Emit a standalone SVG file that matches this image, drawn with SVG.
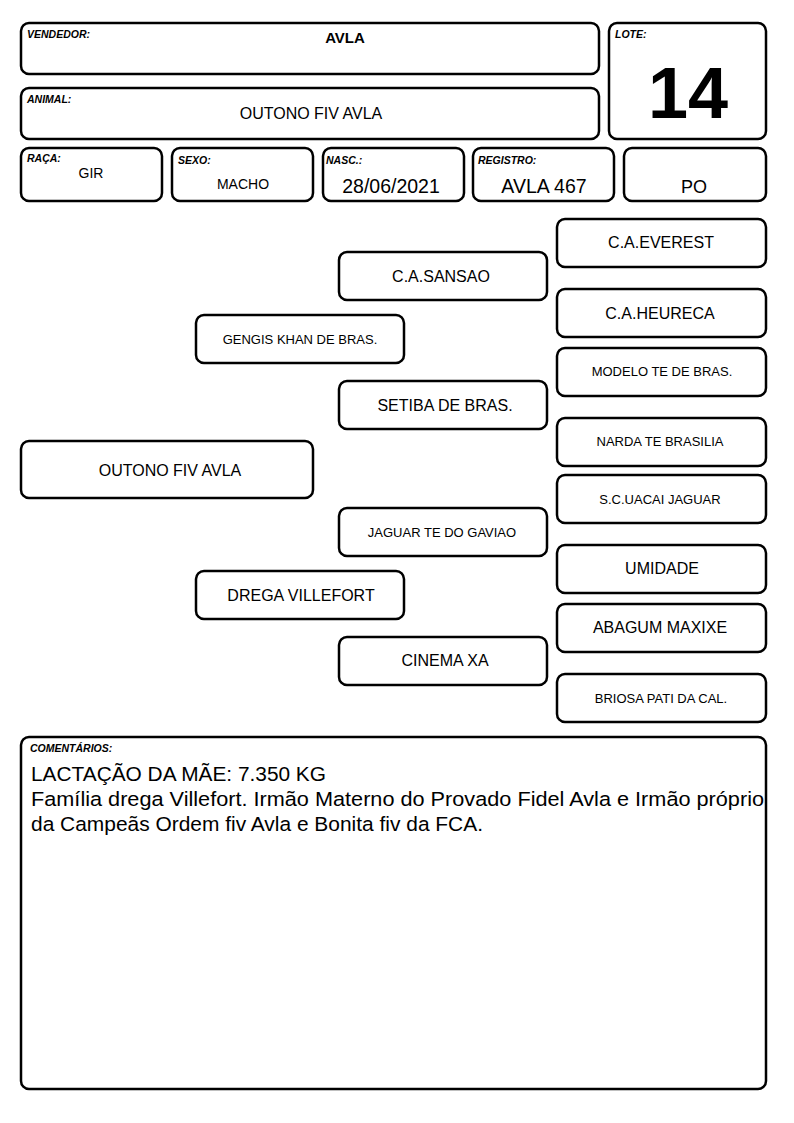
<svg xmlns="http://www.w3.org/2000/svg" width="794" height="1123" viewBox="0 0 794 1123">
<style>
.b{fill:#fff;stroke:#000;stroke-width:2.5}
.lb{font-family:"Liberation Sans",Arial,sans-serif;font-size:10.5px;font-weight:bold;font-style:italic}
.t{font-family:"Liberation Sans",Arial,sans-serif;text-anchor:middle;fill:#000}
.c{font-family:"Liberation Sans",Arial,sans-serif;font-size:20.5px;fill:#000}
</style>
<rect width="794" height="1123" fill="#fff"/>
<g id="vendedor"><rect class="b" x="21" y="23" width="578" height="51" rx="8"/><text class="lb" x="27" y="38">VENDEDOR:</text><text class="t" x="345" y="43" font-size="15" font-weight="bold">AVLA</text></g>
<g id="animal"><rect class="b" x="21" y="88" width="578" height="51" rx="8"/><text class="lb" x="27" y="103">ANIMAL:</text><text class="t" x="311" y="119" font-size="16">OUTONO FIV AVLA</text></g>
<g id="lote"><rect class="b" x="609" y="23" width="157" height="116" rx="8"/><text class="lb" x="615" y="38">LOTE:</text><text class="t" x="688" y="118" font-size="72" font-weight="bold">14</text></g>
<g id="raca"><rect class="b" x="21" y="148" width="141" height="53" rx="8"/><text class="lb" x="27" y="162">RAÇA:</text><text class="t" x="91" y="178" font-size="14">GIR</text></g>
<g id="sexo"><rect class="b" x="172" y="148" width="141" height="53" rx="8"/><text class="lb" x="178" y="164">SEXO:</text><text class="t" x="243" y="189" font-size="14">MACHO</text></g>
<g id="nasc"><rect class="b" x="323" y="148" width="141" height="53" rx="8"/><text class="lb" x="326" y="164">NASC.:</text><text class="t" x="391" y="193" font-size="19.5">28/06/2021</text></g>
<g id="registro"><rect class="b" x="473" y="148" width="141" height="53" rx="8"/><text class="lb" x="478" y="164">REGISTRO:</text><text class="t" x="544" y="193" font-size="19.5">AVLA 467</text></g>
<g id="po"><rect class="b" x="624" y="148" width="142" height="53" rx="8"/><text class="t" x="694" y="193" font-size="18">PO</text></g>
<g id="connectors"></g>
<g id="p-outono"><rect class="b" x="21" y="441" width="292" height="57" rx="8"/><text class="t" x="170" y="476" font-size="16">OUTONO FIV AVLA</text></g>
<g id="p-gengis"><rect class="b" x="196" y="315" width="208" height="48" rx="8"/><text class="t" x="300" y="344" font-size="13">GENGIS KHAN DE BRAS.</text></g>
<g id="p-drega"><rect class="b" x="196" y="571" width="208" height="48" rx="8"/><text class="t" x="301" y="601" font-size="16">DREGA VILLEFORT</text></g>
<g id="p-sansao"><rect class="b" x="339" y="252" width="208" height="48" rx="8"/><text class="t" x="441" y="282" font-size="16">C.A.SANSAO</text></g>
<g id="p-setiba"><rect class="b" x="339" y="381" width="208" height="48" rx="8"/><text class="t" x="445" y="411" font-size="16">SETIBA DE BRAS.</text></g>
<g id="p-jaguar"><rect class="b" x="339" y="508" width="208" height="48" rx="8"/><text class="t" x="442" y="537" font-size="13">JAGUAR TE DO GAVIAO</text></g>
<g id="p-cinema"><rect class="b" x="339" y="637" width="208" height="48" rx="8"/><text class="t" x="445" y="666" font-size="16">CINEMA XA</text></g>
<g id="p-everest"><rect class="b" x="557" y="219" width="209" height="48" rx="8"/><text class="t" x="661" y="248" font-size="16">C.A.EVEREST</text></g>
<g id="p-heureca"><rect class="b" x="557" y="289" width="209" height="48" rx="8"/><text class="t" x="660" y="319" font-size="16">C.A.HEURECA</text></g>
<g id="p-modelo"><rect class="b" x="557" y="348" width="209" height="48" rx="8"/><text class="t" x="662" y="376" font-size="13">MODELO TE DE BRAS.</text></g>
<g id="p-narda"><rect class="b" x="557" y="418" width="209" height="48" rx="8"/><text class="t" x="660" y="446" font-size="13">NARDA TE BRASILIA</text></g>
<g id="p-uacai"><rect class="b" x="557" y="475" width="209" height="48" rx="8"/><text class="t" x="660" y="504" font-size="13">S.C.UACAI JAGUAR</text></g>
<g id="p-umidade"><rect class="b" x="557" y="545" width="209" height="48" rx="8"/><text class="t" x="662" y="574" font-size="16">UMIDADE</text></g>
<g id="p-abagum"><rect class="b" x="557" y="604" width="209" height="48" rx="8"/><text class="t" x="660" y="633" font-size="16">ABAGUM MAXIXE</text></g>
<g id="p-briosa"><rect class="b" x="557" y="674" width="209" height="48" rx="8"/><text class="t" x="661" y="703" font-size="13">BRIOSA PATI DA CAL.</text></g>
<g id="comentarios"><rect class="b" x="21" y="737" width="745" height="352" rx="8"/><text class="lb" x="30" y="752">COMENTÁRIOS:</text>
<text class="c" x="31" y="781" textLength="295" lengthAdjust="spacingAndGlyphs">LACTAÇÃO DA MÃE: 7.350 KG</text>
<text class="c" x="31" y="806" textLength="733" lengthAdjust="spacingAndGlyphs">Família drega Villefort. Irmão Materno do Provado Fidel Avla e Irmão próprio</text>
<text class="c" x="31" y="831" textLength="452" lengthAdjust="spacingAndGlyphs">da Campeãs Ordem fiv Avla e Bonita fiv da FCA.</text></g>
</svg>
